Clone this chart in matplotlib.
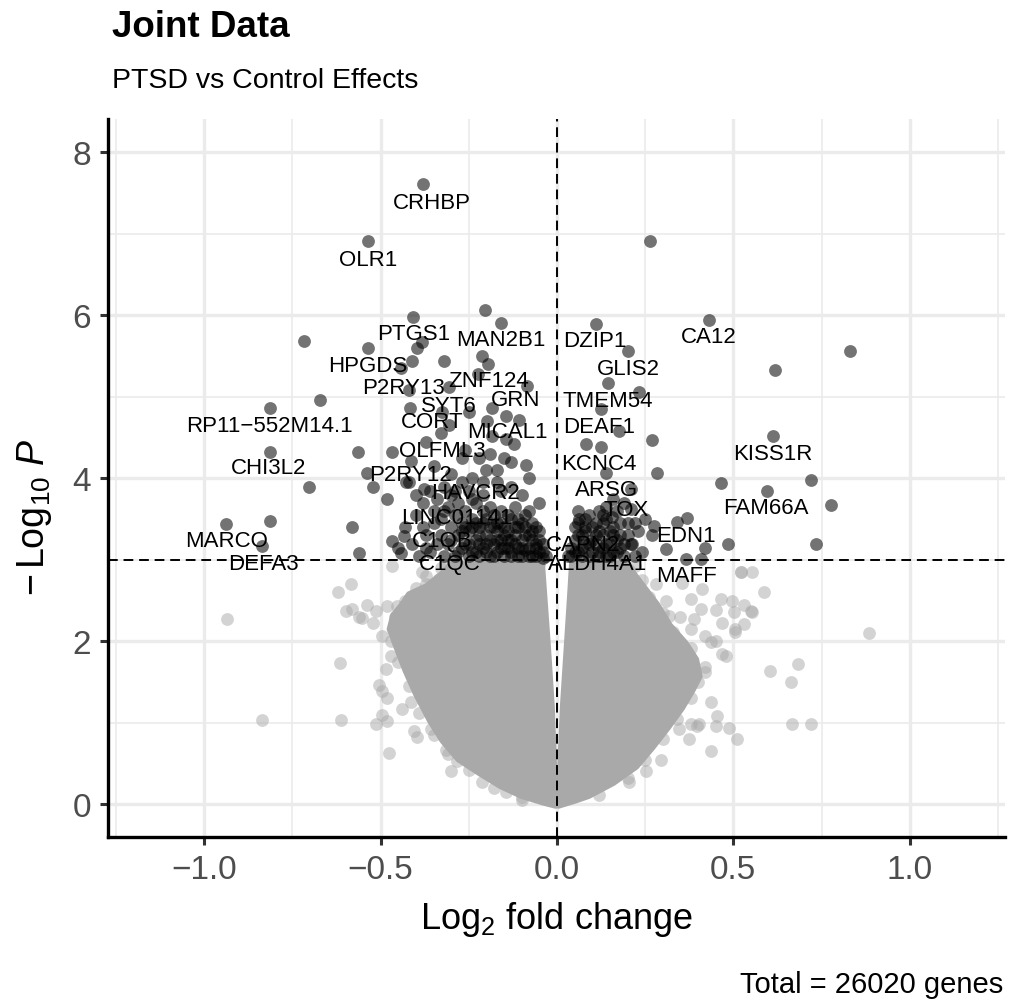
import matplotlib
matplotlib.use("Agg")
import matplotlib.pyplot as plt

plt.rcParams['font.family'] = ['Liberation Sans', 'DejaVu Sans']
plt.rcParams['mathtext.fontset'] = 'custom'
plt.rcParams['mathtext.rm'] = 'Liberation Sans'
plt.rcParams['mathtext.it'] = 'Liberation Sans:italic'
plt.rcParams['mathtext.bf'] = 'Liberation Sans:bold'

# significant genes (dark points), log2FC / -log10 P
sig_x = [-0.379, -0.535, -0.204, -0.158, -0.407, -0.718, -0.537, -0.396, -0.382, -0.410,
         -0.320, -0.212, -0.195, -0.441, -0.223, -0.306, -0.419, -0.085, -0.673, -0.815,
         -0.416, -0.184, -0.144, -0.107, -0.249, -0.325, -0.815, -0.563, -0.467, -0.413,
         -0.540, -0.523, -0.481, -0.704, -0.815, -0.939, -0.835, -0.580, -0.560, -0.467,
         -0.441, -0.433, -0.328, -0.306, -0.371, -0.198, -0.144, -0.122, -0.184, -0.130,
         -0.088, -0.427, -0.376, -0.26, -0.22, -0.17,
         # left cluster
         -0.42, -0.40, -0.38, -0.36, -0.35, -0.34, -0.33, -0.32, -0.31, -0.30,
         -0.30, -0.29, -0.28, -0.28, -0.27, -0.26, -0.26, -0.25, -0.25, -0.24,
         -0.24, -0.23, -0.23, -0.22, -0.22, -0.21, -0.21, -0.20, -0.20, -0.19,
         -0.19, -0.18, -0.18, -0.17, -0.17, -0.16, -0.16, -0.15, -0.15, -0.14,
         -0.13, -0.13, -0.12, -0.11, -0.11, -0.10, -0.09, -0.09, -0.08, -0.07,
         -0.07, -0.06, -0.05, -0.05, -0.04, -0.35, -0.30, -0.27, -0.24, -0.20,
         -0.17, -0.13, -0.10, -0.08, -0.05, -0.19, -0.15, -0.45, -0.43, -0.41,
         -0.39, -0.37, -0.36, -0.34, -0.32,
         -0.40, -0.38, -0.37, -0.35, -0.33, -0.32, -0.31, -0.29, -0.29, -0.27,
         -0.27, -0.26, -0.25, -0.24, -0.23, -0.22, -0.21, -0.20, -0.19, -0.18,
         -0.17, -0.16, -0.15, -0.14, -0.14, -0.13, -0.12, -0.11, -0.10, -0.10,
         -0.09, -0.08, -0.07, -0.06, -0.06, -0.04, -0.12, -0.08, -0.16, -0.21,
         -0.30, -0.28, -0.27, -0.25, -0.24, -0.23, -0.22, -0.21, -0.20, -0.19,
         -0.18, -0.17, -0.16, -0.15, -0.14, -0.13, -0.12, -0.11, -0.10, -0.09,
         -0.08, -0.07, -0.06, -0.05, -0.04, -0.03,
         # right side
         0.110, 0.201, 0.144, 0.232, 0.124, 0.175, 0.269, 0.082, 0.124, 0.139,
         0.283, 0.209, 0.156, 0.062, 0.274, 0.339, 0.368, 0.308, 0.421, 0.263,
         0.430, 0.832, 0.617, 0.611, 0.464, 0.594, 0.719, 0.778, 0.733, 0.484,
         0.269, 0.407, 0.365, 0.212,
         # right cluster
         0.04, 0.05, 0.06, 0.07, 0.08, 0.09, 0.09, 0.10, 0.11, 0.12,
         0.12, 0.13, 0.14, 0.14, 0.15, 0.16, 0.17, 0.17, 0.18, 0.19,
         0.20, 0.21, 0.22, 0.23, 0.19, 0.16, 0.21,
         0.04, 0.05, 0.06, 0.07, 0.08, 0.08, 0.10, 0.10, 0.11, 0.12,
         0.13, 0.13, 0.15, 0.15, 0.17, 0.18, 0.18, 0.20, 0.22, 0.06,
         0.14, 0.24, 0.25,
         0.05, 0.06, 0.07, 0.08, 0.09, 0.11, 0.12, 0.13, 0.14, 0.16,
         0.16, 0.19, 0.03]
sig_y = [7.61, 6.91, 6.07, 5.91, 5.98, 5.69, 5.60, 5.60, 5.68, 5.44,
         5.44, 5.50, 5.41, 5.36, 5.28, 5.12, 5.09, 5.13, 4.96, 4.86,
         4.87, 4.87, 4.77, 4.72, 4.81, 4.81, 4.33, 4.32, 4.33, 4.21,
         4.07, 3.89, 3.75, 3.89, 3.48, 3.44, 3.17, 3.40, 3.08, 3.23,
         3.09, 3.29, 4.56, 4.66, 4.45, 4.70, 4.48, 4.42, 4.52, 4.20,
         4.17, 3.96, 3.87, 4.35, 4.25, 4.10,
         3.95, 3.80, 3.70, 3.85, 3.60, 3.75, 3.50, 3.90, 3.65, 3.40,
         3.80, 3.55, 3.30, 3.70, 3.45, 3.20, 3.60, 3.35, 3.85, 3.10,
         3.50, 3.25, 3.70, 3.05, 3.40, 3.60, 3.15, 3.30, 3.50, 3.05,
         3.40, 3.20, 3.55, 3.10, 3.35, 3.25, 3.45, 3.05, 3.15, 3.35,
         3.10, 3.50, 3.20, 3.05, 3.40, 3.25, 3.12, 3.55, 3.30, 3.05,
         3.45, 3.20, 3.10, 3.35, 3.02, 4.15, 4.05, 4.25, 4.00, 4.10,
         3.95, 3.90, 3.80, 4.00, 3.70, 4.30, 4.25, 3.15, 3.40, 3.20,
         3.05, 3.30, 3.10, 3.20, 3.05,
         3.55, 3.40, 3.15, 3.45, 3.30, 3.60, 3.20, 3.05, 3.85, 3.15,
         3.95, 3.40, 3.05, 3.75, 3.45, 3.20, 3.80, 3.10, 3.65, 3.40,
         3.25, 3.60, 3.30, 3.15, 3.55, 3.25, 3.40, 3.15, 3.45, 3.05,
         3.30, 3.15, 3.25, 3.05, 3.40, 3.20, 3.65, 3.60, 3.85, 3.95,
         3.25, 3.10, 3.35, 3.20, 3.40, 3.10, 3.30, 3.45, 3.20, 3.25,
         3.05, 3.45, 3.15, 3.40, 3.25, 3.05, 3.30, 3.50, 3.15, 3.40,
         3.05, 3.35, 3.15, 3.25, 3.10, 3.05,
         5.89, 5.56, 5.17, 5.06, 4.85, 4.58, 4.47, 4.42, 4.39, 4.07,
         4.07, 3.87, 3.53, 3.50, 3.41, 3.47, 3.52, 3.13, 3.15, 6.91,
         5.95, 5.56, 5.33, 4.52, 3.94, 3.84, 3.98, 3.67, 3.20, 3.19,
         3.31, 3.01, 3.01, 3.19,
         3.05, 3.25, 3.45, 3.15, 3.35, 3.05, 3.55, 3.25, 3.45, 3.10,
         3.60, 3.30, 3.05, 3.50, 3.20, 3.40, 3.10, 3.60, 3.30, 3.05,
         3.45, 3.20, 3.05, 3.35, 3.70, 3.75, 3.62,
         3.15, 3.40, 3.10, 3.30, 3.20, 3.50, 3.10, 3.40, 3.20, 3.35,
         3.15, 3.55, 3.35, 3.05, 3.25, 3.45, 3.15, 3.30, 3.45, 3.60,
         3.65, 3.10, 3.50,
         3.10, 3.30, 3.05, 3.40, 3.20, 3.30, 3.05, 3.45, 3.20, 3.10,
         3.30, 3.20, 3.05]

# non-significant genes outside the dense core
ns_x = [-0.936, -0.614, -0.837, -0.611, -0.622, -0.583, -0.597, -0.540, -0.512, -0.481,
        -0.453, -0.554, -0.523, -0.495, -0.470, -0.484, -0.504, -0.495, -0.481, -0.438,
        -0.413, -0.495, -0.512, -0.481, -0.405, -0.396, -0.475, -0.356, -0.314, -0.300,
        -0.283, -0.212, -0.144, -0.099, -0.390, -0.371, -0.342, -0.334, -0.362, -0.419,
        -0.286, -0.240, -0.192, -0.127, -0.156, -0.467, -0.382, -0.334, -0.314, -0.212,
        -0.164, -0.116, -0.071, -0.580, -0.560,
        -0.10, -0.18, -0.25, -0.31, -0.35, -0.39, -0.42, -0.45, -0.47, -0.46,
        -0.43, -0.40, -0.37, -0.44, -0.41, -0.36, -0.33, -0.27, -0.23, -0.05,
        0.054, 0.099, 0.147, 0.204, 0.232, 0.269, 0.317, 0.354, 0.379, 0.410,
        0.450, 0.464, 0.495, 0.523, 0.552, 0.549, 0.506, 0.478, 0.438, 0.421,
        0.436, 0.453, 0.450, 0.487, 0.509, 0.438, 0.373, 0.402, 0.294, 0.252,
        0.204, 0.885, 0.605, 0.682, 0.662, 0.665, 0.721, 0.586, 0.529, 0.552,
        0.501, 0.467, 0.506, 0.529, 0.407, 0.388, 0.379, 0.421, 0.450, 0.467,
        0.396, 0.379, 0.345, 0.521,
        0.12, 0.20, 0.25, 0.30, 0.34, 0.38, 0.40, 0.42, 0.38, 0.33,
        0.30, 0.26, 0.24, 0.35, 0.31, 0.28, 0.22, 0.17, 0.05]
ns_y = [2.27, 1.74, 1.03, 1.04, 2.60, 2.70, 2.37, 2.45, 2.37, 2.43,
        2.43, 2.29, 2.23, 2.06, 1.82, 1.66, 1.47, 1.39, 1.31, 1.17,
        1.25, 1.10, 0.98, 1.02, 0.90, 0.83, 0.63, 0.92, 0.67, 0.41,
        0.53, 0.27, 0.15, 0.09, 2.55, 2.70, 2.52, 2.02, 2.27, 2.12,
        2.64, 2.67, 2.52, 2.60, 2.72, 2.92, 2.85, 2.76, 2.94, 2.92,
        2.85, 2.92, 2.85, 2.40, 2.30,
        0.05, 0.20, 0.42, 0.62, 0.85, 1.12, 1.45, 1.75, 2.00, 2.30,
        2.50, 2.65, 2.80, 2.20, 2.40, 2.60, 2.90, 2.95, 2.88, 2.95,
        2.85, 2.92, 2.76, 2.88, 2.67, 2.39, 2.31, 2.72, 2.52, 2.64,
        2.39, 2.52, 2.49, 2.85, 2.85, 2.37, 2.15, 1.82, 1.99, 1.62,
        1.25, 1.08, 0.96, 0.94, 0.80, 0.66, 0.80, 0.98, 0.55, 0.41,
        0.28, 2.10, 1.64, 1.72, 1.50, 0.99, 0.99, 2.60, 2.45, 2.36,
        2.36, 2.23, 2.12, 2.21, 2.40, 2.27, 2.15, 2.06, 2.00, 1.84,
        0.96, 0.99, 0.92, 2.85,
        0.12, 0.32, 0.55, 0.80, 1.05, 1.30, 1.50, 1.68, 1.92, 2.12,
        2.35, 2.55, 2.75, 2.30, 2.50, 2.70, 2.93, 2.96, 2.95]

# outline of the dense grey core (thousands of overlapping points)
core_left_x = [-0.004, -0.04, -0.10, -0.16, -0.22, -0.28, -0.325, -0.36, -0.40, -0.43,
               -0.455, -0.475, -0.465, -0.44, -0.42, -0.37, -0.33, -0.30, -0.042, -0.036,
               -0.026, -0.014, -0.008, -0.004]
core_left_y = [-0.02, 0.02, 0.10, 0.22, 0.38, 0.55, 0.78, 1.02, 1.35, 1.64,
               1.92, 2.15, 2.32, 2.45, 2.58, 2.68, 2.82, 2.95, 2.96, 2.60,
               2.00, 1.20, 0.50, 0.10]
core_right_x = [0.004, 0.05, 0.09, 0.16, 0.225, 0.27, 0.315, 0.355, 0.385, 0.405,
                0.395, 0.365, 0.32, 0.285, 0.25, 0.215, 0.20, 0.042, 0.037, 0.028,
                0.016, 0.009, 0.005]
core_right_y = [-0.02, 0.04, 0.10, 0.26, 0.46, 0.69, 0.94, 1.18, 1.40, 1.57,
                1.78, 1.98, 2.20, 2.45, 2.65, 2.85, 2.96, 2.96, 2.60, 2.00,
                1.20, 0.50, 0.10]

# labelled genes and label positions
lab_names = ['CRHBP', 'OLR1', 'PTGS1', 'MAN2B1', 'HPGDS', 'P2RY13', 'ZNF124', 'SYT6', 'GRN',
             'CORT', 'MICAL1', 'RP11\u2212552M14.1', 'OLFML3', 'CHI3L2', 'P2RY12', 'HAVCR2',
             'LINC01141', 'MARCO', 'C1QB', 'DEFA3', 'C1QC', 'DZIP1', 'CA12', 'GLIS2',
             'TMEM54', 'DEAF1', 'KCNC4', 'KISS1R', 'ARSG', 'TOX', 'FAM66A', 'EDN1',
             'CAPN2', 'ALDH4A1', 'MAFF']
lab_x = [-0.356, -0.535, -0.407, -0.158, -0.537, -0.436, -0.195, -0.306, -0.116,
         -0.354, -0.141, -0.815, -0.325, -0.818, -0.416, -0.232,
         -0.283, -0.936, -0.325, -0.832, -0.303, 0.107, 0.430, 0.201,
         0.144, 0.119, 0.119, 0.611, 0.139, 0.195, 0.591, 0.365,
         0.074, 0.116, 0.368]
lab_y = [7.39, 6.69, 5.78, 5.71, 5.39, 5.12, 5.20, 4.90, 4.97,
         4.70, 4.58, 4.65, 4.34, 4.13, 4.05, 3.83,
         3.52, 3.24, 3.24, 2.96, 2.96, 5.69, 5.74, 5.35,
         4.96, 4.64, 4.18, 4.31, 3.87, 3.62, 3.64, 3.30,
         3.19, 2.96, 2.81]

fig = plt.figure(figsize=(10.09, 10.04), dpi=100)
ax = fig.add_axes([0.107, 0.165, 0.889, 0.715])

# stroke with round joins so the core edge looks like stacked round markers
ax.fill(core_left_x, core_left_y, facecolor='#a9a9a9', edgecolor='#a9a9a9', lw=4,
        joinstyle='round', zorder=2)
ax.fill(core_right_x, core_right_y, facecolor='#a9a9a9', edgecolor='#a9a9a9', lw=4,
        joinstyle='round', zorder=2)
ax.scatter(ns_x, ns_y, s=85, color='#a9a9a9', alpha=0.5, lw=0, zorder=3)
ax.scatter(sig_x, sig_y, s=85, color='black', alpha=0.55, lw=0, zorder=4)

ax.axhline(3, color='black', lw=1.4, ls=(0, (5, 3)), zorder=5)
ax.axvline(0, color='black', lw=1.4, ls=(0, (5, 3)), zorder=5)

for name, lx, ly in zip(lab_names, lab_x, lab_y):
    ax.text(lx, ly, name, fontsize=16, ha='center', va='center', color='black', zorder=6)

ax.set_xlim(-1.273, 1.27)
ax.set_ylim(-0.405, 8.405)
ax.set_xticks([-1.0, -0.5, 0.0, 0.5, 1.0])
ax.set_xticklabels(['\u22121.0', '\u22120.5', '0.0', '0.5', '1.0'])
ax.set_yticks([0, 2, 4, 6, 8])
ax.set_xticks([-1.25, -0.75, -0.25, 0.25, 0.75, 1.25], minor=True)
ax.set_yticks([1, 3, 5, 7], minor=True)
ax.grid(which='major', color='#ebebeb', lw=2.4, zorder=0)
ax.grid(which='minor', color='#ebebeb', lw=1.2, zorder=0)
ax.set_axisbelow(True)
ax.tick_params(which='major', length=6, width=2.2, color='#333333', labelsize=24,
               labelcolor='#4d4d4d', pad=6)
ax.tick_params(which='minor', length=0)
for side in ['top', 'right']:
    ax.spines[side].set_visible(False)
for side in ['left', 'bottom']:
    ax.spines[side].set_linewidth(2.4)
    ax.spines[side].set_color('black')

ax.set_xlabel('Log$_{2}$ fold change', fontsize=26, labelpad=10)
fig.text(35 / 1009, 1 - 517 / 1004, '$-\\,$Log$_{10}$ $\\mathit{P}$', fontsize=27,
         rotation=90, ha='center', va='center')

fig.text(0.111, 1 - 37 / 1004, 'Joint Data', fontsize=26.5, fontweight='bold', va='baseline')
fig.text(0.111, 1 - 88 / 1004, 'PTSD vs Control Effects', fontsize=20.5, va='baseline')
fig.text(0.994, 1 - 993 / 1004, 'Total = 26020 genes', fontsize=21, ha='right', va='baseline')

fig.savefig('out.png', dpi=100)
